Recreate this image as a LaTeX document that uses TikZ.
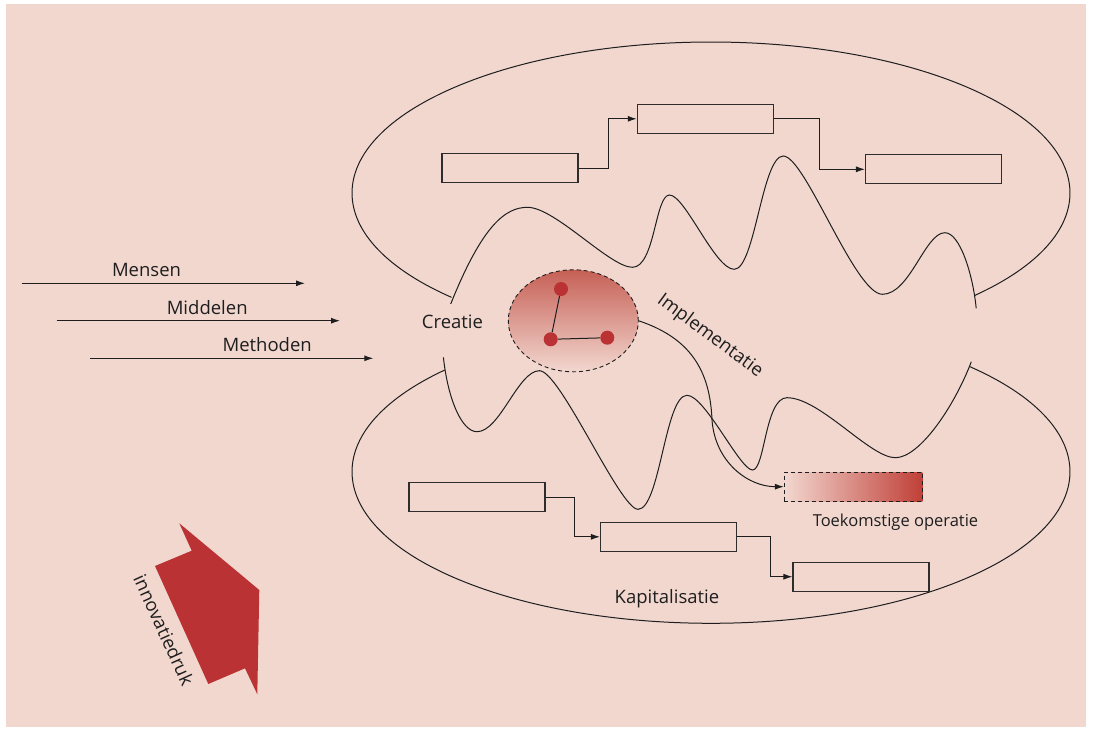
\documentclass[tikz,border=0pt]{standalone}
\usepackage{fontspec}
\setmainfont{Open Sans}
\usetikzlibrary{arrows.meta,shapes.geometric}
\definecolor{bg}{RGB}{242,215,207}
\definecolor{ink}{RGB}{30,30,30}
\definecolor{boxline}{RGB}{45,45,45}
\definecolor{fred}{RGB}{186,50,52}
\definecolor{shadetop}{RGB}{198,96,86}
\definecolor{shademid}{RGB}{234,190,178}
\definecolor{futmid}{RGB}{228,170,158}
\definecolor{futright}{RGB}{192,64,56}
\tikzset{
  lbl/.style={font=\fontsize{18.5}{20}\selectfont, text=ink, inner sep=0pt},
  procbox/.style={draw=boxline, line width=1.1pt, minimum width=136pt, minimum height=29pt, inner sep=0pt},
  conn/.style={draw=ink, line width=1pt, -{Latex[length=9pt,width=6pt]}},
  flow/.style={draw=ink, line width=1pt},
  dotnode/.style={circle, fill=fred, minimum size=14pt, inner sep=0pt},
}
\begin{document}
\begin{tikzpicture}[x=1pt,y=-1pt]
\useasboundingbox (0,0) rectangle (1093,731);
\fill[white] (0,0) rectangle (1093,731);
\fill[bg] (6,4) rectangle (1086,727);

% top ellipse arc
\draw[flow] (711,193) ++(136.3:359 and 151) arc[start angle=136.3, end angle=402.66, x radius=359, y radius=151];
% bottom ellipse arc
\draw[flow] (711,471.7) ++(222.15:359 and 151.6) arc[start angle=222.15, end angle=-43.87, x radius=359, y radius=151.6];

% top wave
\draw[flow] (450.7,304)
  .. controls (482,226) and (505,207.3) .. (527.5,207.3)
  .. controls (555,207.3) and (610,267.3) .. (632.4,267.3)
  .. controls (655,267.3) and (655,195) .. (669.5,195)
  .. controls (685,195) and (715,269.3) .. (734.2,269.3)
  .. controls (755,269.3) and (762,156) .. (783.3,156)
  .. controls (805,156) and (855,294.3) .. (882.4,294.3)
  .. controls (910,294.3) and (925,232.7) .. (944.9,232.7)
  .. controls (960,232.7) and (973,275) .. (976.2,308.3);

% bottom wave
\draw[flow] (443.4,357.3)
  .. controls (448,400) and (462,431.7) .. (477,431.7)
  .. controls (500,431.7) and (518,370.7) .. (539.5,370.7)
  .. controls (560,370.7) and (620,509.3) .. (638,509.3)
  .. controls (660,509.3) and (665,395.3) .. (687,395.3)
  .. controls (705,395.3) and (740,470) .. (752.5,470)
  .. controls (765,470) and (765,397.7) .. (787,397.7)
  .. controls (820,397.7) and (870,457.7) .. (895.3,457.7)
  .. controls (920,457.7) and (955,405) .. (971.3,361.7);

% top process boxes
\node[procbox] (ta) at (510,168) {};
\node[procbox] (tb) at (705.3,118.8) {};
\node[procbox] (tc) at (933.5,169.3) {};
\draw[conn] (ta.east) -- ++(29.5,0) |- (tb.west);
\draw[conn] (tb.east) -- ++(45.6,0) |- (tc.west);

% bottom process boxes
\node[procbox] (ba) at (477,497.3) {};
\node[procbox] (bb) at (668.5,536.8) {};
\node[procbox] (bc) at (861,576.7) {};
\draw[conn] (ba.east) -- ++(28.8,0) |- (bb.west);
\draw[conn] (bb.east) -- ++(33.2,0) |- (bc.west);

% idea cloud
\node[ellipse, draw=ink, line width=0.9pt, dash pattern=on 4pt off 3pt,
      top color=shadetop, middle color=shademid, bottom color=bg,
      minimum width=130pt, minimum height=102pt, inner sep=0pt] (idea) at (573.3,320.8) {};
\node[dotnode] (d1) at (561,289) {};
\node[dotnode] (d2) at (550.7,339.3) {};
\node[dotnode] (d3) at (607.3,337.7) {};
\draw[ink, line width=1pt] (d1) -- (d2) -- (d3);

% future operation
\node[draw=ink, line width=0.9pt, dash pattern=on 4pt off 3pt,
      left color=bg, middle color=futmid, right color=futright,
      minimum width=138pt, minimum height=28.7pt, inner sep=0pt] (fut) at (853.3,486.7) {};
\node[lbl, font=\fontsize{16.5}{18}\selectfont, anchor=base] (futlbl) at (895.5,526.5) {Toekomstige operatie};

% implementation curve
\draw[conn] (idea.east) .. controls (690,338) and (710,370) .. (712,420)
  .. controls (715,462) and (748,486.7) .. (fut.west);

% labels
\node[lbl, anchor=base] (creatie) at (452.5,328.3) {Creatie};
\node[lbl, rotate=-36.5] (impl) at (710,336) {Implementatie};
\node[lbl, anchor=base] (kap) at (667,603.3) {Kapitalisatie};

% input arrows
\coordinate (m1s) at (21.7,283.3);
\coordinate (m1e) at (305,283.3);
\coordinate (m2s) at (56.7,320.7);
\coordinate (m2e) at (340,320.7);
\coordinate (m3s) at (90,358.3);
\coordinate (m3e) at (373.3,358.3);
\draw[conn] (m1s) -- (m1e);
\draw[conn] (m2s) -- (m2e);
\draw[conn] (m3s) -- (m3e);
\node[lbl, anchor=base] (mensen) at (146.5,276) {Mensen};
\node[lbl, anchor=base] (middelen) at (207.2,314) {Middelen};
\node[lbl, anchor=base] (methoden) at (267.2,351) {Methoden};

% innovation pressure arrow
\fill[fred] (179.3,523.3) -- (191.7,550.7) -- (155,566) -- (208.3,684) -- (245,668.3)
  -- (257.3,694.3) -- (259.3,590) -- cycle;
\node[lbl, rotate=-65.5] (druk) at (164,630) {innovatiedruk};
\end{tikzpicture}
\end{document}
